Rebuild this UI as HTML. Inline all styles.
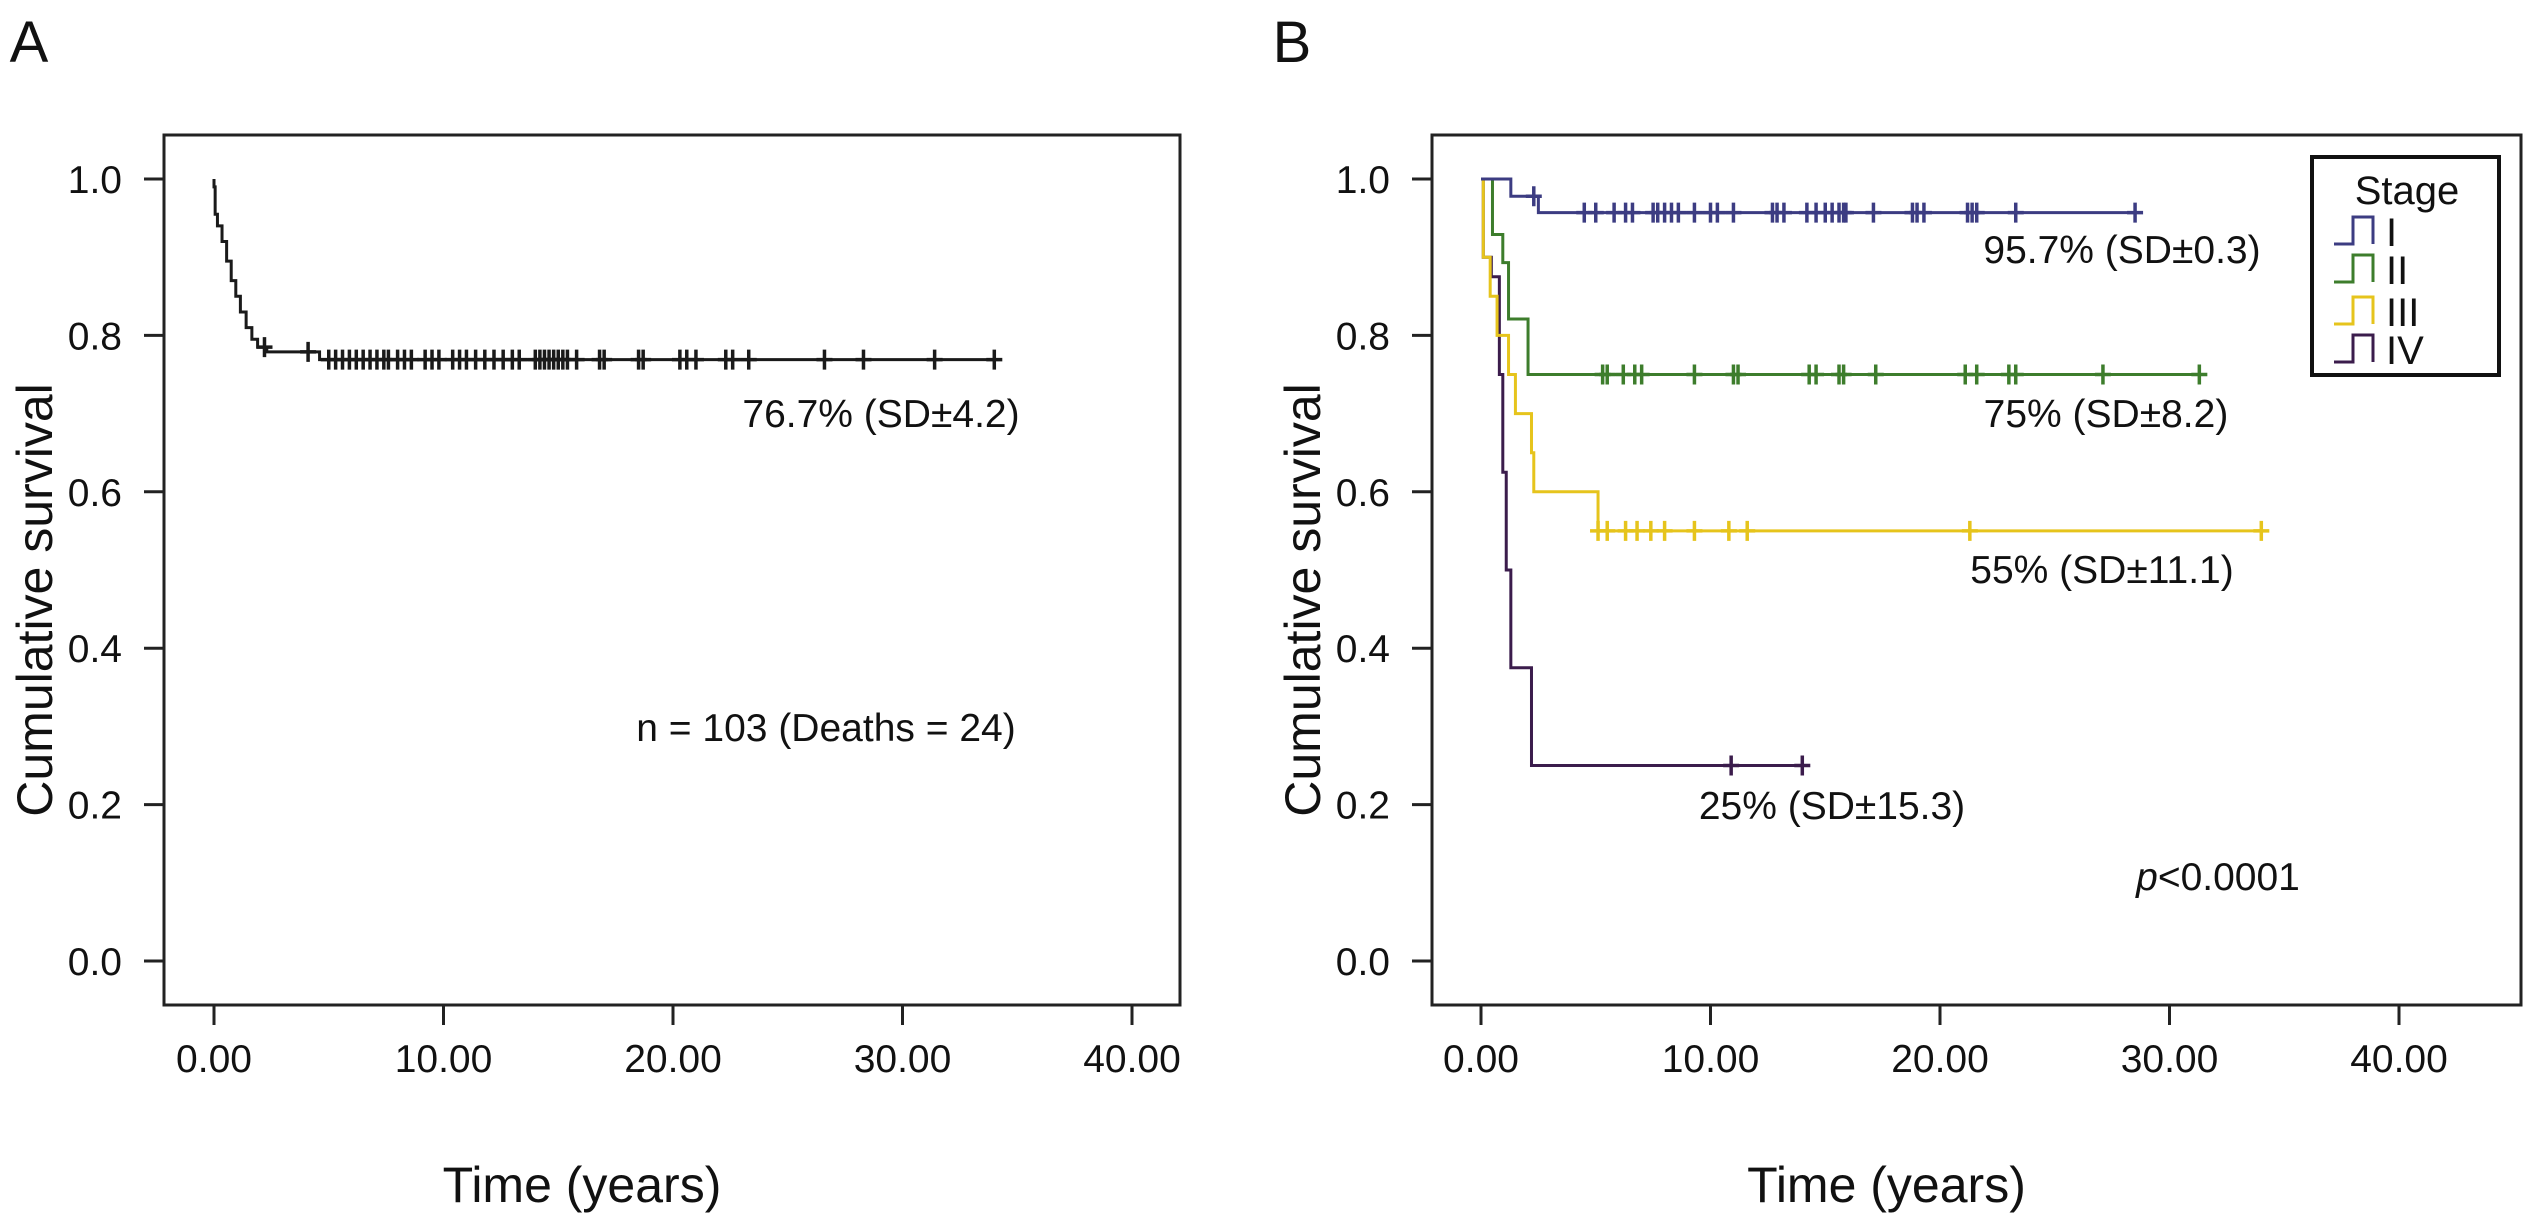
<!DOCTYPE html>
<html><head><meta charset="utf-8"><style>
html,body{margin:0;padding:0;background:#fff;}
svg text{font-family:"Liberation Sans",Arial,sans-serif;fill:#111;}
</style></head><body>
<svg id="fig" width="2527" height="1221" viewBox="0 0 2527 1221" xmlns="http://www.w3.org/2000/svg">
<g id="panelA"></g>
<g id="panelB"></g>
</svg>
<script>
// ---- data ----
const xTicks = [0, 10, 20, 30, 40];
const xTickLabels = ["0.00", "10.00", "20.00", "30.00", "40.00"];
const yTicks = [0, 0.2, 0.4, 0.6, 0.8, 1.0];
const yTickLabels = ["0.0", "0.2", "0.4", "0.6", "0.8", "1.0"];

// Panel A: overall survival step curve
const aTimes = [0, 0.05, 0.15, 0.35, 0.55, 0.75, 0.95, 1.15, 1.4, 1.65, 1.9, 2.3, 4.6, 34];
const aSurv  = [0.99, 0.955, 0.94, 0.92, 0.895, 0.87, 0.85, 0.83, 0.81, 0.795, 0.785, 0.779, 0.769, 0.769];
const aCensor = [2.2, 4.1, 5.0, 5.3, 5.6, 5.9, 6.2, 6.5, 6.8, 7.1, 7.4, 7.6, 8.0, 8.3, 8.6, 9.2, 9.5, 9.8, 10.4, 10.7, 11.0, 11.4, 11.8, 12.2, 12.6, 13.0, 13.3, 14.0, 14.2, 14.4, 14.6, 14.8, 15.0, 15.2, 15.4, 15.8, 16.8, 17.0, 18.5, 18.7, 20.3, 20.6, 21.0, 22.3, 22.6, 23.3, 26.6, 28.3, 31.4, 34.0];

// Panel B: by stage
const stageNames = ["I", "II", "III", "IV"];
const stageColors = ["#3c3c82", "#3d7d2c", "#e6c41c", "#3b1c4c"];
const s1Times = [0.1, 1.3, 2.5, 28.5];
const s1Surv  = [1.0, 0.978, 0.957, 0.957];
const s1Censor = [2.3, 4.5, 5.0, 5.8, 6.3, 6.6, 7.5, 7.7, 8.0, 8.3, 8.6, 9.3, 10.0, 10.3, 11.0, 12.7, 12.9, 13.2, 14.2, 14.6, 15.0, 15.3, 15.6, 15.8, 15.9, 17.1, 18.8, 19.0, 19.3, 21.2, 21.4, 21.6, 23.3, 28.5];
const s2Times = [0.2, 0.5, 0.95, 1.2, 2.05, 31.3];
const s2Surv  = [1.0, 0.929, 0.893, 0.821, 0.75, 0.75];
const s2Censor = [5.3, 5.5, 6.2, 6.7, 7.0, 9.3, 11.0, 11.2, 14.3, 14.6, 15.6, 15.8, 17.2, 21.1, 21.6, 23.0, 23.3, 27.1, 31.3];
const s3Times = [0.1, 0.4, 0.7, 1.2, 1.5, 2.2, 2.3, 5.1, 34];
const s3Surv  = [0.9, 0.85, 0.8, 0.75, 0.7, 0.65, 0.6, 0.55, 0.55];
const s3Censor = [5.1, 5.5, 6.3, 6.8, 7.4, 8.0, 9.3, 10.8, 11.6, 21.3, 34.0];
const s4Times = [0.1, 0.45, 0.8, 0.95, 1.1, 1.3, 2.2, 14.0];
const s4Surv  = [0.9, 0.875, 0.75, 0.625, 0.5, 0.375, 0.25, 0.25];
const s4Censor = [10.9, 14.0];

// ---- layout ----
const NS = "http://www.w3.org/2000/svg";
const yTop = 135, yBot = 1005;
function yS(v){ return 961 - v*782; }
function mk(tag, attrs, parent){
  const e = document.createElementNS(NS, tag);
  for (const k in attrs) e.setAttribute(k, attrs[k]);
  parent.appendChild(e);
  return e;
}
function txt(s, x, y, size, anchor, parent){
  const t = mk("text", {x:x, y:y, "font-size":size, "text-anchor":anchor}, parent);
  t.textContent = s;
  return t;
}

function drawAxes(g, left, right, x0, letter, letterX){
  const xS = t => x0 + t*22.95;
  const box = mk("rect", {x:left, y:yTop, width:right-left, height:yBot-yTop, fill:"none", stroke:"#222", "stroke-width":3}, g);
  
  
  yTicks.forEach((v,i)=>{
    const l = mk("line", {x1:left-20, x2:left, y1:yS(v), y2:yS(v), stroke:"#222", "stroke-width":3}, g);
    
    
    const t = txt(yTickLabels[i], left-42, yS(v)+14, 39, "end", g);
    
    
  });
  xTicks.forEach((v,i)=>{
    const l = mk("line", {x1:xS(v), x2:xS(v), y1:yBot, y2:yBot+20, stroke:"#222", "stroke-width":3}, g);
    
    
    const t = txt(xTickLabels[i], xS(v), 1072, 39, "middle", g);
    
    
  });
  const xt = txt("Time (years)", (left+right)/2 - 90, 1202, 50, "middle", g);
  
  
  const yt = txt("Cumulative survival", 0, 0, 50, "middle", g);
  yt.setAttribute("transform", "translate(" + (left-112) + ",600) rotate(-90)");
  
  
  const lt = txt(letter, letterX, 62, 58, "middle", g);
  
  
  return xS;
}

function drawCurve(g, xS, times, surv, censor, color, name){
  let d = "M" + xS(0) + "," + yS(1.0);
  for (let i=0;i<times.length;i++){
    d += " H" + xS(times[i]) + " V" + yS(surv[i]);
  }
  const p = mk("path", {d:d, fill:"none", stroke:color, "stroke-width":3}, g);
  
  
  censor.forEach(c=>{
    let v = 1.0;
    for (let i=0;i<times.length;i++){ if (times[i] <= c) v = surv[i]; }
    const m = mk("path", {d:"M"+(xS(c)-8)+","+yS(v)+" h16 M"+xS(c)+","+(yS(v)-10)+" v20", stroke:color, "stroke-width":3.5}, g);
    
    
  });
}

// Panel A
const gA = document.getElementById("panelA");
const xA = drawAxes(gA, 164, 1180, 214, "A", 29);
drawCurve(gA, xA, aTimes, aSurv, aCensor, "#1a1a1a", "overall");
let t1 = txt("76.7% (SD±4.2)", 881, 427, 39, "middle", gA);


let t2 = txt("n = 103 (Deaths = 24)", 826, 741, 39, "middle", gA);



// Panel B
const gB = document.getElementById("panelB");
const xB = drawAxes(gB, 1432, 2521, 1481, "B", 1292);
const sTimes = [s1Times, s2Times, s3Times, s4Times];
const sSurv = [s1Surv, s2Surv, s3Surv, s4Surv];
const sCens = [s1Censor, s2Censor, s3Censor, s4Censor];
for (let k=3;k>=0;k--){
  drawCurve(gB, xB, sTimes[k], sSurv[k], sCens[k], stageColors[k], "stage-" + stageNames[k].toLowerCase());
}
const bLabels = [["95.7% (SD±0.3)",2122,263],["75% (SD±8.2)",2106,427],["55% (SD±11.1)",2102,583],["25% (SD±15.3)",1832,819]];
bLabels.forEach(b=>{
  const t = txt(b[0], b[1], b[2], 39, "middle", gB);
  
  
});
const pv = mk("text", {x:2218, y:890, "font-size":39, "text-anchor":"middle"}, gB);
pv.innerHTML = '<tspan font-style="italic">p</tspan>&lt;0.0001';



// Legend
const lg = mk("g", {}, gB);


mk("rect", {x:2312, y:157, width:187, height:218, fill:"#fff", stroke:"#111", "stroke-width":4}, lg);
const lt = txt("Stage", 2407, 204, 40, "middle", lg);


const baseY = [246, 284, 326, 364];
stageNames.forEach((s,i)=>{
  const e = mk("g", {}, lg);
  
  
  const by = baseY[i];
  mk("path", {d:"M2334,"+(by-2)+" H2353 V"+(by-29)+" H2373 V"+(by-2), fill:"none", stroke:stageColors[i], "stroke-width":3}, e);
  txt(s, 2386, by, 40, "start", e);
});
</script>
</body></html>
